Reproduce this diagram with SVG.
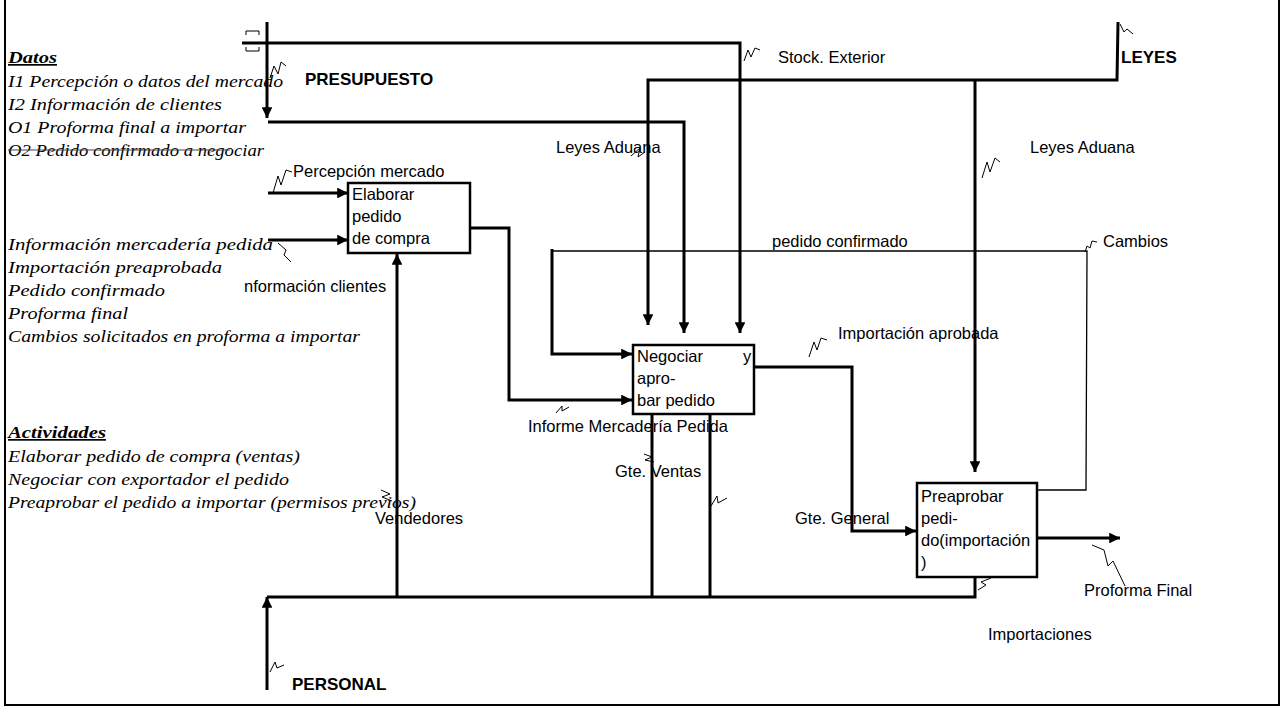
<svg xmlns="http://www.w3.org/2000/svg" width="1284" height="709" viewBox="0 0 1284 709">
<style>
.bg{fill:#fff}
.frame{fill:none;stroke:#000;stroke-width:2}
.box{fill:#fff;stroke:#000;stroke-width:2.5}
.thick{fill:none;stroke:#000;stroke-width:3}
.thin{fill:none;stroke:#000;stroke-width:1.3}
.sq{fill:none;stroke:#000;stroke-width:1}
.lbl{font-family:"Liberation Sans",Arial,sans-serif;font-size:16.5px;fill:#000}
.bold{font-family:"Liberation Sans",Arial,sans-serif;font-size:17px;font-weight:bold;fill:#000}
.scr{font-family:"Liberation Serif","Times New Roman",serif;font-style:italic;font-size:17px;fill:#000}
.hd{font-weight:bold;text-decoration:underline}
</style>
<defs>
<marker id="ah" viewBox="0 0 10 10" refX="10" refY="5" markerWidth="4" markerHeight="3.6" markerUnits="strokeWidth" orient="auto">
<path d="M0,0 L10,5 L0,10 z" fill="#000"/>
</marker>
</defs>
<rect class="bg" x="0" y="0" width="1284" height="709"/>
<path class="frame" d="M5,0 L5,705 L1279,705 L1279,0"/>

<g id="legend">
<text class="scr hd" x="8" y="63" textLength="49" lengthAdjust="spacingAndGlyphs">Datos</text>
<text class="scr" x="8" y="87" textLength="275" lengthAdjust="spacingAndGlyphs">I1 Percepción o datos del mercado</text>
<text class="scr" x="8" y="110" textLength="214" lengthAdjust="spacingAndGlyphs">I2 Información de clientes</text>
<text class="scr" x="8" y="133" textLength="238" lengthAdjust="spacingAndGlyphs">O1 Proforma final a importar</text>
<text class="scr" x="8" y="156" textLength="256" lengthAdjust="spacingAndGlyphs">O2 Pedido confirmado a negociar</text>
<line x1="8" y1="150" x2="230" y2="150" stroke="#444" stroke-width="1"/>
<text class="scr" x="8" y="250" textLength="265" lengthAdjust="spacingAndGlyphs">Información mercadería pedida</text>
<text class="scr" x="8" y="273" textLength="214" lengthAdjust="spacingAndGlyphs">Importación preaprobada</text>
<text class="scr" x="8" y="296" textLength="157" lengthAdjust="spacingAndGlyphs">Pedido confirmado</text>
<text class="scr" x="8" y="319" textLength="120" lengthAdjust="spacingAndGlyphs">Proforma final</text>
<text class="scr" x="8" y="342" textLength="352" lengthAdjust="spacingAndGlyphs">Cambios solicitados en proforma a importar</text>
<text class="scr hd" x="8" y="438" textLength="98" lengthAdjust="spacingAndGlyphs">Actividades</text>
<text class="scr" x="8" y="462" textLength="292" lengthAdjust="spacingAndGlyphs">Elaborar pedido de compra (ventas)</text>
<text class="scr" x="8" y="485" textLength="281" lengthAdjust="spacingAndGlyphs">Negociar con exportador el pedido</text>
<text class="scr" x="8" y="508" textLength="408" lengthAdjust="spacingAndGlyphs">Preaprobar el pedido a importar (permisos previos)</text>
</g>

<g id="connectors">
<path class="thick" d="M267,22 L267,118" marker-end="url(#ah)"/>
<path class="thick" d="M268,122 L684,122 L684,333" marker-end="url(#ah)"/>
<path class="thick" d="M242,43 L740,43 L740,333" marker-end="url(#ah)"/>
<path class="sq" d="M246,35 L246,31 L259,31 L259,35 M246,47 L246,51 L259,51 L259,47"/>
<path class="thick" d="M1118,22 L1117,80 L648,80 L648,325" marker-end="url(#ah)"/>
<path class="thick" d="M975,80 L975,472" marker-end="url(#ah)"/>
<path class="thick" d="M268,193 L348,193" marker-end="url(#ah)"/>
<path class="thick" d="M268,240 L348,240" marker-end="url(#ah)"/>
<path class="thick" d="M397,597 L397,254" marker-end="url(#ah)"/>
<path class="thick" d="M470,228 L509,228 L509,400 L632,400" marker-end="url(#ah)"/>
<path class="thin" d="M552,251 L1087,251 L1086,490 L1034,490"/>
<path class="thick" d="M552,249 L552,354 L632,354" marker-end="url(#ah)"/>
<path class="thick" d="M754,367 L852,367 L852,531 L916,531" marker-end="url(#ah)"/>
<path class="thick" d="M1037,538 L1120,538" marker-end="url(#ah)"/>
<path class="thick" d="M267,690 L267,597" marker-end="url(#ah)"/>
<path class="thick" d="M267,597 L975,597 L975,545" marker-end="url(#ah)"/>
<path class="thick" d="M652,597 L652,403" marker-end="url(#ah)"/>
<path class="thick" d="M710,597 L710,403" marker-end="url(#ah)"/>
<path class="sq" d="M270,78 L274,66 L278,74 L281,62 L286,66"/>
<path class="sq" d="M744,61 L748,50 L751,57 L755,48 L760,50"/>
<path class="sq" d="M1120,24 L1124,32 L1127,29 L1133,34"/>
<path class="sq" d="M631,156 L640,148 L638,157 L645,152"/>
<path class="sq" d="M982,178 L987,162 L990,172 L995,158 L1000,162"/>
<path class="sq" d="M273,193 L278,176 L281,185 L286,170 L292,172"/>
<path class="sq" d="M278,243 L286,250 L284,255 L291,262"/>
<path class="sq" d="M1085,252 L1087,246 L1090,248 L1092,241 L1097,242"/>
<path class="sq" d="M809,357 L814,342 L817,350 L821,338 L827,340"/>
<path class="sq" d="M556,413 L562,406 L562,411 L569,407"/>
<path class="sq" d="M644,454 L652,457 L645,460 L654,462"/>
<path class="sq" d="M711,506 L717,496 L718,503 L727,498"/>
<path class="sq" d="M381,490 L390,494 L382,497 L392,501"/>
<path class="sq" d="M270,672 L275,662 L277,668 L284,665"/>
<path class="sq" d="M1092,545 L1104,550 L1108,566 L1113,561 L1125,586"/>
<path class="sq" d="M978,590 L986,585 L981,582 L991,578"/>
</g>

<g id="node-elaborar">
<rect class="box" x="348" y="183" width="122" height="70"/>
<text class="lbl" x="352" y="200">Elaborar</text>
<text class="lbl" x="352" y="222">pedido</text>
<text class="lbl" x="352" y="244">de compra</text>
</g>
<g id="node-negociar">
<rect class="box" x="633" y="345" width="121" height="69"/>
<text class="lbl" x="637" y="362">Negociar</text>
<text class="lbl" x="743" y="362">y</text>
<text class="lbl" x="637" y="384">apro-</text>
<text class="lbl" x="637" y="406">bar pedido</text>
</g>
<g id="node-preaprobar">
<rect class="box" x="917" y="483" width="120" height="94"/>
<text class="lbl" x="921" y="502">Preaprobar</text>
<text class="lbl" x="921" y="524">pedi-</text>
<text class="lbl" x="921" y="546">do(importación</text>
<text class="lbl" x="921" y="568">)</text>
</g>

<g id="labels">
<text class="bold" x="305" y="85">PRESUPUESTO</text>
<text class="bold" x="1121" y="63">LEYES</text>
<text class="bold" x="292" y="690">PERSONAL</text>
<text class="lbl" x="778" y="63">Stock. Exterior</text>
<text class="lbl" x="556" y="153">Leyes Aduana</text>
<text class="lbl" x="1030" y="153">Leyes Aduana</text>
<text class="lbl" x="293" y="177">Percepción mercado</text>
<text class="lbl" x="244" y="292">nformación clientes</text>
<text class="lbl" x="772" y="247">pedido confirmado</text>
<text class="lbl" x="1103" y="247">Cambios</text>
<text class="lbl" x="838" y="339">Importación aprobada</text>
<text class="lbl" x="528" y="432">Informe Mercadería Pedida</text>
<text class="lbl" x="615" y="477">Gte. Ventas</text>
<text class="lbl" x="375" y="524">Vendedores</text>
<text class="lbl" x="795" y="524">Gte. General</text>
<text class="lbl" x="1084" y="596">Proforma Final</text>
<text class="lbl" x="988" y="640">Importaciones</text>
</g>
</svg>
